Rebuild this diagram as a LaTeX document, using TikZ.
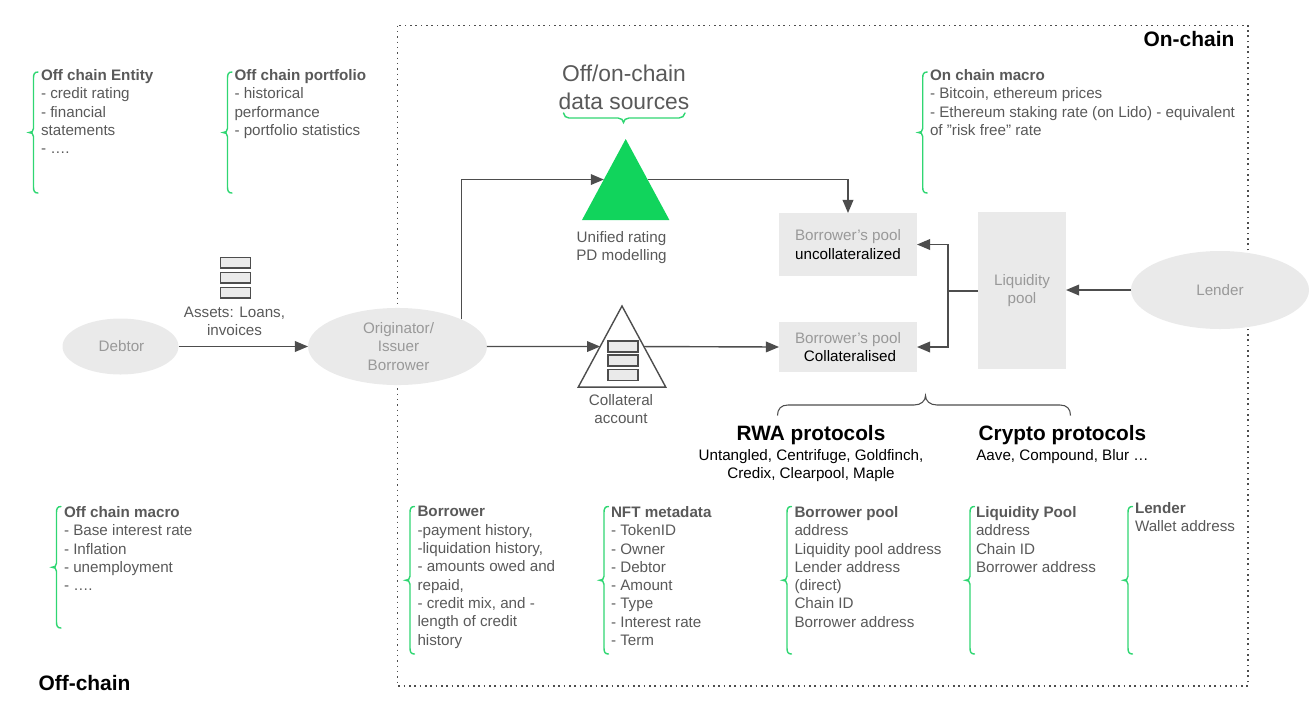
\documentclass[tikz,border=0pt]{standalone}
\usepackage{fontspec}
\setmainfont{Liberation Sans}
\usetikzlibrary{arrows.meta,shapes.geometric}
\definecolor{ink}{HTML}{595959}
\definecolor{dk}{HTML}{4D4D4D}
\definecolor{pale}{HTML}{999999}
\definecolor{fillg}{HTML}{EAEAEA}
\definecolor{grn}{HTML}{11D45C}
\definecolor{brc}{HTML}{2FD672}
\newcommand{\vbrace}[3]{% spine x, top y, bottom y
  \draw[bracel] (#1+4.5,#2) .. controls (#1+1,#2) and (#1,#2+2) .. (#1,#2+6)
   -- (#1,{(#2+#3)/2-4}) .. controls (#1,{(#2+#3)/2-1}) and (#1-2,{(#2+#3)/2}) .. (#1-4.5,{(#2+#3)/2})
   .. controls (#1-2,{(#2+#3)/2}) and (#1,{(#2+#3)/2+1}) .. (#1,{(#2+#3)/2+4})
   -- (#1,#3-6) .. controls (#1,#3-2) and (#1+1,#3) .. (#1+4.5,#3);}
\tikzset{
  bracel/.style={brc,line width=1.05pt,line cap=round},
  lab/.style={text=ink,font=\fontsize{11.4}{13.72}\selectfont,align=left,anchor=north west,inner sep=0pt,outer sep=0pt},
  clab/.style={text=ink,font=\fontsize{11.4}{13.72}\selectfont,align=center,inner sep=0pt,outer sep=0pt},
  elli/.style={ellipse,fill=fillg,inner sep=0pt,outer sep=0pt,text=pale,align=center,font=\fontsize{11.4}{13.72}\selectfont},
  boxn/.style={rectangle,fill=fillg,inner sep=0pt,outer sep=0pt,text=pale,align=center,font=\fontsize{11.4}{13.72}\selectfont},
  con/.style={dk,line width=1.05pt,-{Triangle[length=9.8pt,width=8pt]}},
  plainc/.style={dk,line width=1.05pt},
  stackr/.style={rectangle,draw=dk,fill=fillg,line width=1.05pt,minimum width=22.5pt,minimum height=8.2pt,inner sep=0pt},
  tri/.style={isosceles triangle,isosceles triangle stretches,shape border rotate=90,anchor=apex,inner sep=0pt,outer sep=0pt,minimum width=65.6pt,minimum height=60.8pt},
  frame/.style={draw=dk,line width=1.2pt,dash pattern=on 1.2pt off 2.8pt},
}
\begin{document}
\begin{tikzpicture}[x=0.75pt,y=-0.75pt]
\useasboundingbox (0,0) rectangle (1311,701);
\draw[frame] (397.5,25.5) rectangle (1248,686);

\node[elli,minimum width=87pt,minimum height=42pt] (debtor) at (120.5,346.5) {\raisebox{-0.7pt}{\hspace*{1.5pt}Debtor}};
\node[elli,minimum width=134.2pt,minimum height=57.8pt] (orig) at (397.5,346.5) {\hspace*{1.5pt}Originator/\\\hspace*{1.5pt}Issuer\\\hspace*{1.5pt}Borrower};
\node[elli,minimum width=133.5pt,minimum height=58.5pt] (lender) at (1220,290) {\raisebox{-0.7pt}{Lender}};
\node[boxn,minimum width=103.5pt,minimum height=47.2pt] (unc) at (848,244.5) {\raisebox{-0.7pt}{Borrower's pool}\\\raisebox{-0.7pt}{\textcolor{black}{uncollateralized}}};
\node[boxn,minimum width=103.5pt,minimum height=37.5pt] (col) at (848,347) {Borrower's pool\\\hspace*{3pt}\textcolor{black}{Collateralised}};
\node[boxn,minimum width=66pt,minimum height=117.8pt] (liq) at (1022,290.5) {\raisebox{-1.5pt}{Liquidity}\\\raisebox{-1.5pt}{pool}};

\node[tri,fill=grn] (tg) at (625.7,139) {};
\node[tri,draw=dk,fill=white,line width=1.05pt] (tc) at (622,306) {};

\node[stackr] (a1) at (235.5,262.7) {};
\node[stackr] (a2) at (235.5,277.7) {};
\node[stackr] (a3) at (235.5,292.7) {};
\node[stackr] (c1) at (623,346.5) {};
\node[stackr] (c2) at (623,360.5) {};
\node[stackr] (c3) at (623,375) {};

\coordinate (junc) at (948,291);
\draw[con] (debtor) -- (orig);
\draw[con] (orig.east) -- (tc.left side);
\draw[con] (tc.right side) -- (col.west);
\draw[con] ([xshift=0.75pt]orig.north east) |- (tg.left side);
\draw[con] (tg.right side) -| (unc.north);
\draw[plainc] (liq.west |- junc) -- (junc);
\draw[con] (junc) |- (unc.east);
\draw[con] (junc) |- (col.east);
\draw[con] (lender.west) -- (liq.east |- lender.west);

\node[clab] (assets) at (234.5,321) {Assets: Loans,\\invoices};
\node[clab] (unified) at (621.5,247.5) {Unified rating\\PD modelling};
\node[clab] (collat) at (621,409) {Collateral\\account};
\node[clab,text=ink,font=\fontsize{17.1}{21}\selectfont] (srcs) at (624,87) {Off/on-chain\\data sources};
\node[text=black,font=\bfseries\fontsize{15.7}{17}\selectfont,inner sep=0pt] (onc) at (1189,39.5) {On-chain};
\node[text=black,font=\bfseries\fontsize{15.7}{17}\selectfont,inner sep=0pt] (offc) at (84.5,683.5) {Off-chain};
\node[text=black,font=\bfseries\fontsize{15.6}{17}\selectfont,inner sep=0pt] (rwa) at (811,435) {RWA protocols};
\node[text=black,font=\bfseries\fontsize{15.6}{17}\selectfont,inner sep=0pt] (cry) at (1062.5,435) {Crypto protocols};
\node[clab,text=black,font=\fontsize{11.4}{13.72}\selectfont] (rwal) at (811,465.5) {Untangled, Centrifuge, Goldfinch,\\Credix, Clearpool, Maple};
\node[clab,text=black,font=\fontsize{11.4}{13.72}\selectfont] (cryl) at (1062.5,456.5) {Aave, Compound, Blur …};

\node[lab] (t1) at (41,69.5) {\textbf{Off chain Entity}\\- credit rating\\- financial\\statements\\- ….};
\node[lab] (t2) at (234.5,69.5) {\textbf{Off chain portfolio}\\- historical\\performance\\- portfolio statistics};
\node[lab] (t3) at (930,69.5) {\textbf{On chain macro}\\- Bitcoin, ethereum prices\\- Ethereum staking rate (on Lido) - equivalent\\of ”risk free” rate};
\node[lab] (t4) at (64,506.5) {\textbf{Off chain macro}\\- Base interest rate\\- Inflation\\- unemployment\\- ….};
\node[lab] (t5) at (417.5,506.5) {\textbf{Borrower}\\-payment history,\\-liquidation history,\\- amounts owed and\\repaid,\\- credit mix, and -\\length of credit\\history};
\node[lab] (t6) at (611,506.5) {\textbf{NFT metadata}\\- TokenID\\- Owner\\- Debtor\\- Amount\\- Type\\- Interest rate\\- Term};
\node[lab] (t7) at (794.5,506.5) {\textbf{Borrower pool}\\address\\Liquidity pool address\\Lender address\\(direct)\\Chain ID\\Borrower address};
\node[lab] (t8) at (976,506.5) {\textbf{Liquidity Pool}\\address\\Chain ID\\Borrower address};
\node[lab] (t9) at (1135,502.5) {\textbf{Lender}\\Wallet address};

\vbrace{33.5}{72}{193}
\vbrace{227.5}{72}{193}
\vbrace{922.7}{72}{193}
\vbrace{56.5}{506.5}{628}
\vbrace{410}{506.5}{654}
\vbrace{604}{506.5}{654}
\vbrace{787}{506.5}{654}
\vbrace{970}{506.5}{654}
\vbrace{1128}{506.5}{654}

\draw[bracel] (563.5,113) .. controls (564,116) and (566,118) .. (569,118) -- (618,118)
  .. controls (621,118) and (623.5,120) .. (623.5,122.5) .. controls (623.5,120) and (626,118) .. (629,118)
  -- (679,118) .. controls (682,118) and (684.5,116) .. (685,113);
\draw[plainc,line width=0.8pt] (777.5,415.5) .. controls (777.5,409) and (781,405) .. (788,405) -- (914,405)
  .. controls (921,405) and (925.5,401) .. (925.5,395.5) .. controls (925.5,401) and (930,405) .. (937,405)
  -- (1060,405) .. controls (1067,405) and (1070.5,409) .. (1070.5,415.5);
\end{tikzpicture}
\end{document}
